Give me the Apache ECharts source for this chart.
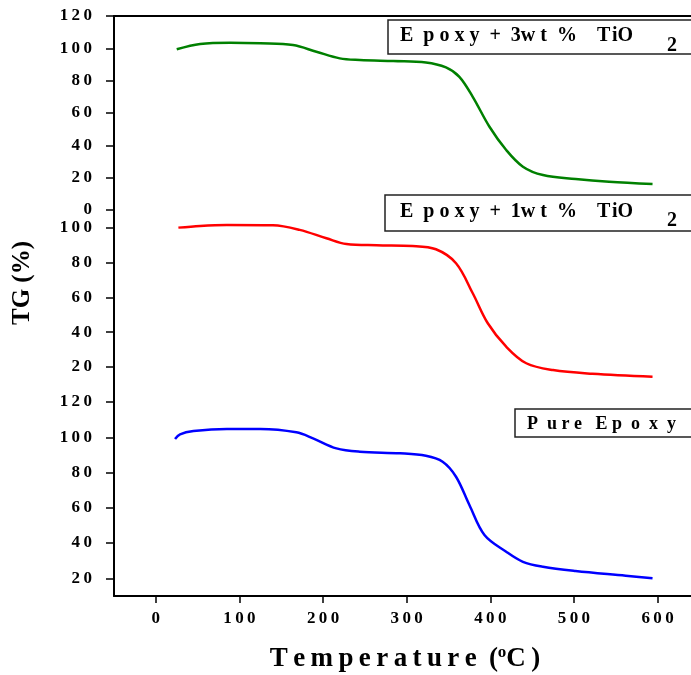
<!DOCTYPE html>
<html>
<head>
<meta charset="utf-8">
<script src="https://cdn.jsdelivr.net/npm/echarts@6/dist/echarts.min.js"></script>
<style>
  html, body { margin: 0; padding: 0; background: #fff; }
  #chart { width: 691px; height: 675px; }
</style>
</head>
<body>
<div id="chart"></div>
<script>
// TG curves (temperature in degC, weight %)
const temp3wt = [25, 53, 89, 125, 164, 192, 220, 244, 284, 323, 347, 363, 379, 399, 419, 439, 463, 502, 542, 594];
const tg3wt = [99.4, 102.7, 103.5, 103.1, 102, 97.9, 93.8, 92.8, 92.1, 91.3, 88.2, 82.4, 70, 51.5, 37.1, 26.8, 21.6, 19.2, 17.5, 16.1];

const temp1wt = [27, 53, 85, 140, 172, 204, 228, 264, 307, 335, 359, 379, 397, 419, 443, 475, 522, 594];
const tg1wt = [99.9, 100.9, 101.4, 101.2, 98.6, 93.8, 90.5, 89.8, 89.4, 87.5, 79.5, 62.3, 45.1, 31.7, 22.2, 18.3, 16.2, 14.5];

const tempPure = [23, 29, 45, 85, 125, 168, 188, 216, 244, 292, 323, 343, 359, 375, 393, 419, 439, 463, 502, 562, 594];
const tgPure = [99, 101.7, 103.5, 104.7, 104.7, 102.8, 99.4, 93.7, 91.8, 90.9, 89.5, 86.1, 77.6, 61.6, 44.6, 35.1, 29.4, 26.6, 24.2, 21.5, 20];

const xTicks = [0, 100, 200, 300, 400, 500, 600];
const yTicksTop = [0, 20, 40, 60, 80, 100, 120];
const yTicksMid = [20, 40, 60, 80, 100];
const yTicksBottom = [20, 40, 60, 80, 100, 120];

const FONT = "'Liberation Serif', 'Times New Roman', serif";
const spaced = (v) => String(v).split('').join('\u2009');
const pairs = (xs, ys) => xs.map((x, i) => [x, ys[i]]);

const chart = echarts.init(document.getElementById('chart'));

const axisLine = { show: true, onZero: false, lineStyle: { color: '#000', width: 2 } };
const tickLabel = { color: '#000', fontFamily: FONT, fontWeight: 'bold', fontSize: 17 };

const yAxisFor = (gridIndex, min, max, ticks) => ({
  type: 'value',
  gridIndex,
  min,
  max,
  axisLine,
  axisTick: { show: true, length: 8, lineStyle: { color: '#000', width: 1.5 }, customValues: ticks },
  axisLabel: { ...tickLabel, margin: 22, formatter: spaced, customValues: ticks },
  splitLine: { show: false },
});

const lineSeries = (name, xi, data, color) => ({
  name,
  type: 'line',
  xAxisIndex: xi,
  yAxisIndex: xi,
  data,
  smooth: 0.35,
  showSymbol: false,
  lineStyle: { color, width: 2.5 },
});

const labelText = (x, y, text, size) => ({
  type: 'text', x, y, z: 11,
  style: { text, fontFamily: FONT, fontWeight: 'bold', fontSize: size, fill: '#000', verticalAlign: 'middle' },
});

chart.setOption({
  animation: false,
  backgroundColor: '#fff',
  grid: [
    { left: 114, width: 578, top: 16, height: 194 },
    { left: 114, width: 578, top: 210, height: 192 },
    { left: 114, width: 578, top: 402, height: 194 },
  ],
  xAxis: [
    { type: 'value', gridIndex: 0, position: 'top', min: -50, max: 640, axisLine,
      axisTick: { show: false }, axisLabel: { show: false }, splitLine: { show: false } },
    { type: 'value', gridIndex: 1, min: -50, max: 640, show: false },
    { type: 'value', gridIndex: 2, min: -50, max: 640, axisLine,
      axisTick: { show: true, length: 7, lineStyle: { color: '#000', width: 1.5 }, customValues: xTicks },
      axisLabel: { ...tickLabel, margin: 14, formatter: spaced, customValues: xTicks },
      splitLine: { show: false } },
  ],
  yAxis: [
    yAxisFor(0, 0, 120, yTicksTop),
    yAxisFor(1, 0, 110, yTicksMid),
    yAxisFor(2, 10, 120, yTicksBottom),
  ],
  series: [
    lineSeries('Epoxy + 3wt % TiO2', 0, pairs(temp3wt, tg3wt), '#008000'),
    lineSeries('Epoxy + 1wt % TiO2', 1, pairs(temp1wt, tg1wt), '#ff0000'),
    lineSeries('Pure Epoxy', 2, pairs(tempPure, tgPure), '#0000ff'),
  ],
  graphic: [
    // axis titles
    {
      type: 'text', x: 23, y: 283, rotation: Math.PI / 2,
      style: { text: 'TG (%)', fontFamily: FONT, fontWeight: 'bold', fontSize: 25,
        fill: '#000', align: 'center', verticalAlign: 'middle' },
    },
    {
      type: 'text', x: 405, y: 659,
      style: {
        text: '{a|T\u2009e\u2009m\u2009p\u2009e\u2009r\u2009a\u2009t\u2009u\u2009r\u2009e\u2009 (}{s|o}{a|C\u2009)}',
        align: 'center', verticalAlign: 'middle',
        rich: {
          a: { fontFamily: FONT, fontWeight: 'bold', fontSize: 27, fill: '#000', lineHeight: 30 },
          s: { fontFamily: FONT, fontWeight: 'bold', fontSize: 17, fill: '#000', verticalAlign: 'top', lineHeight: 16 },
        },
      },
    },
    // boxed series labels
    { type: 'rect', shape: { x: 388, y: 20, width: 320, height: 34 },
      style: { fill: '#fff', stroke: '#222', lineWidth: 1.5 }, z: 10 },
    labelText(400, 36, 'E  p o x y  +  3w t  %    T\u200AiO', 20),
    labelText(667, 46, '2', 20),
    { type: 'rect', shape: { x: 385, y: 195, width: 320, height: 36 },
      style: { fill: '#fff', stroke: '#222', lineWidth: 1.5 }, z: 10 },
    labelText(400, 212, 'E  p o x y  +  1w t  %    T\u200AiO', 20),
    labelText(667, 221, '2', 20),
    { type: 'rect', shape: { x: 515, y: 409, width: 200, height: 28 },
      style: { fill: '#fff', stroke: '#222', lineWidth: 1.5 }, z: 10 },
    labelText(527, 424, 'P  u r e   E p  o  x  y', 18),
  ],
});
</script>
</body>
</html>
